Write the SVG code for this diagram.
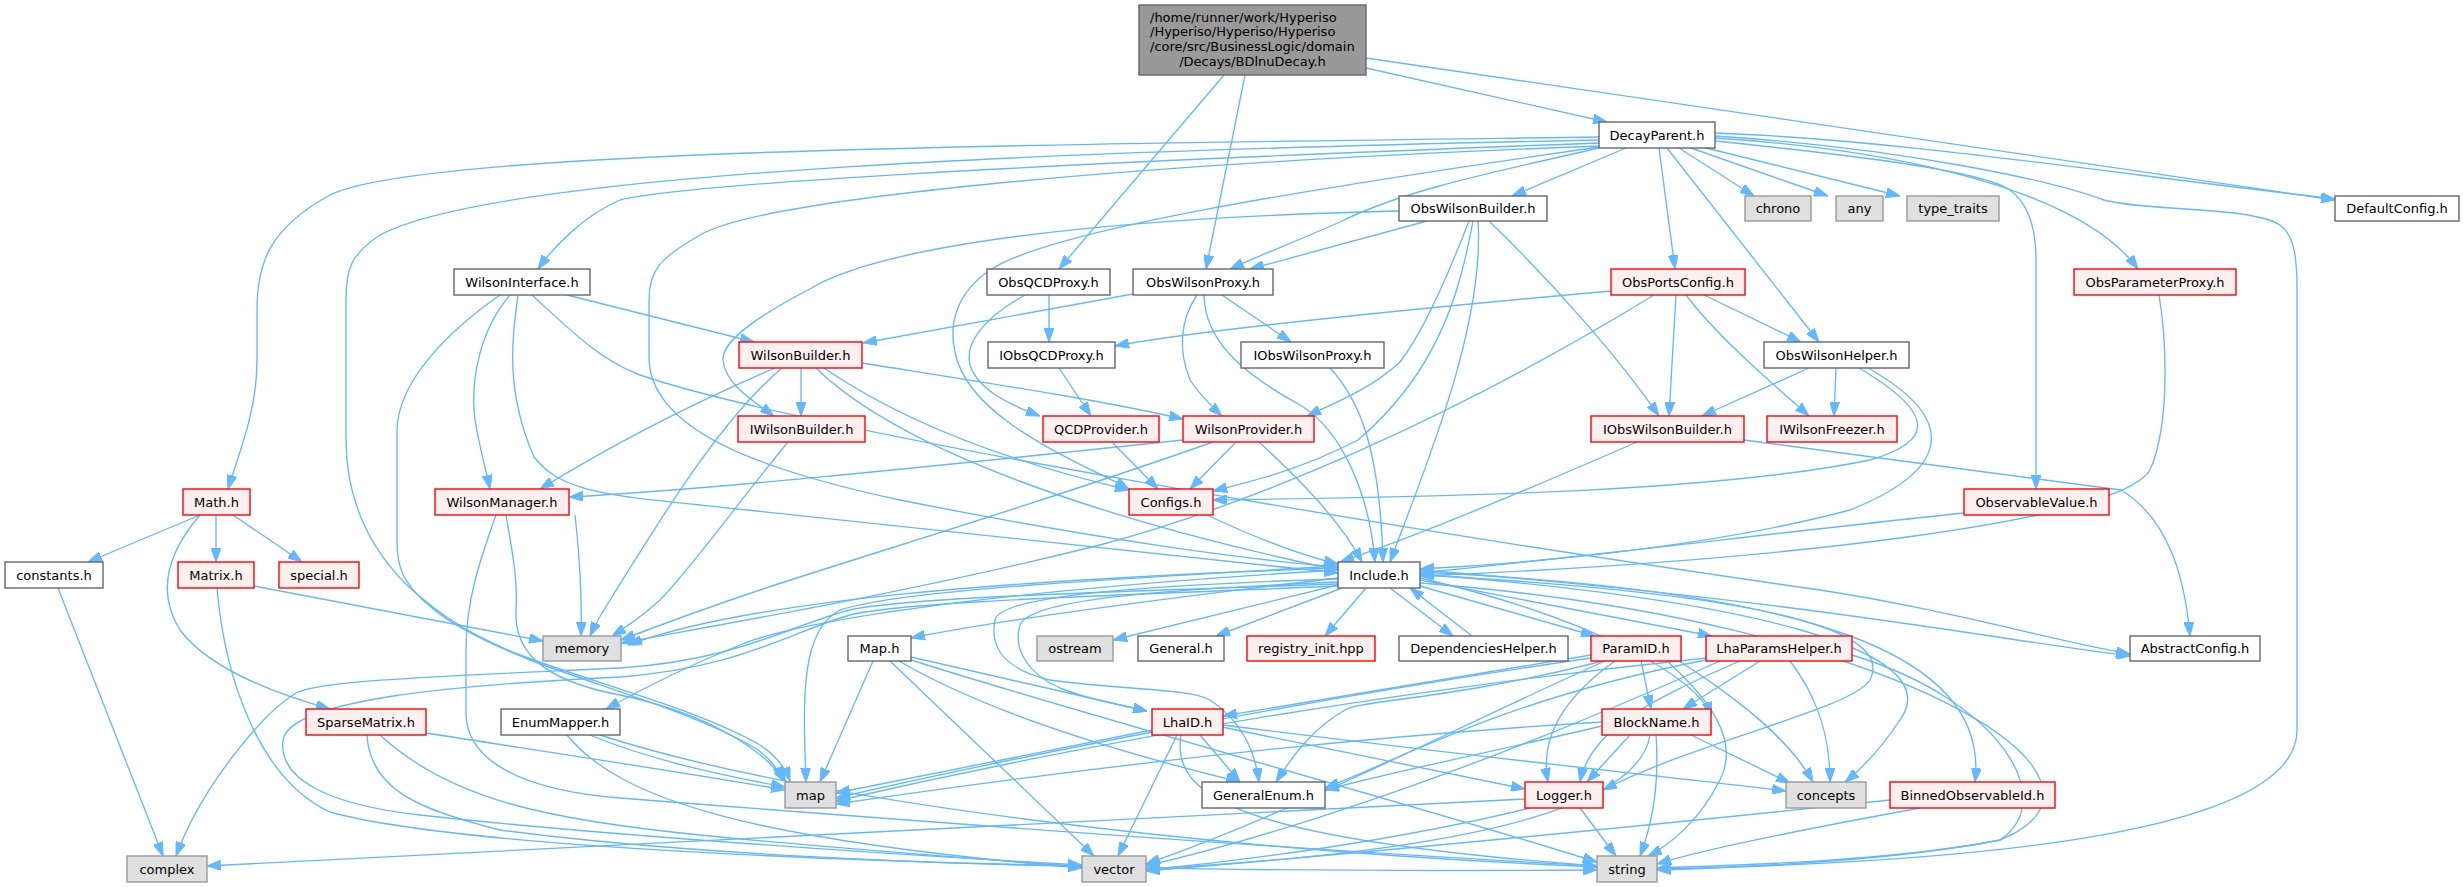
<svg xmlns="http://www.w3.org/2000/svg" width="2463" height="887" viewBox="0 0 2463 887">
<style>
.node rect{stroke-width:1.4}
.w rect{fill:#ffffff;stroke:#666666}
.r rect{fill:#fff0f0;stroke:#ff0000}
.g rect{fill:#e0e0e0;stroke:#999999}
.root rect{fill:#999999;stroke:#666666}
text{font-family:"DejaVu Sans","Liberation Sans",sans-serif;font-size:13px;fill:#000000;text-anchor:middle}
text.l{text-anchor:start}
#edges path{fill:none;stroke:#63b8ff;stroke-width:1.35;marker-end:url(#ah)}
</style>
<defs>
<marker id="ah" viewBox="0 0 14 10" refX="14" refY="5" markerWidth="14" markerHeight="10" markerUnits="userSpaceOnUse" orient="auto"><path d="M0,0 L14,5 L0,10 z" fill="#63b8ff" stroke="#63b8ff" stroke-width="1"/></marker>
</defs>
<rect width="2463" height="887" fill="#ffffff"/>
<g id="edges">
<path d="M1366,68 L1607,122"/>
<path d="M1224,75 L1059,269"/>
<path d="M1245,75 L1206,269"/>
<path d="M1366,58 L2335,200"/>
<path d="M1599,137 C1000,145 420,150 330,195 C270,228 257,262 257,310 L257,360 C257,410 240,450 228,489"/>
<path d="M1599,140 C1100,150 500,170 380,235 C350,255 346,270 346,300 L346,440 C346,500 370,550 410,588 C440,615 470,635 520,655 C600,685 700,710 760,745 C775,755 785,767 790,781"/>
<path d="M1599,143 C1000,165 680,185 620,200 C585,215 555,245 538,269"/>
<path d="M1599,146 C1100,165 760,200 700,235 C660,258 649,270 649,300 L649,357 C649,430 760,470 900,500 C1100,540 1250,560 1338,567"/>
<path d="M1599,147 C1300,190 1050,230 990,270 C958,292 948,322 955,352 C968,420 1080,462 1129,489"/>
<path d="M1599,148 C1480,175 1400,192 1340,222 C1290,244 1258,256 1230,269"/>
<path d="M1626,148 L1512,196"/>
<path d="M1659,148 L1675,269"/>
<path d="M1667,148 L1819,342"/>
<path d="M1679,148 L1754,196"/>
<path d="M1691,148 L1828,196"/>
<path d="M1706,148 L1900,196"/>
<path d="M1715,133 C1900,140 2100,172 2335,199"/>
<path d="M1715,138 C1900,150 2080,190 2138,269"/>
<path d="M1715,141 C1850,155 1980,170 2010,190 C2030,205 2036,230 2036,260 L2036,489"/>
<path d="M1715,136 C1900,148 2050,180 2104,200 C2150,212 2250,206 2280,225 C2295,236 2297,260 2297,290 L2297,730 C2297,830 2000,862 1657,869"/>
<path d="M1427,221 L1250,269"/>
<path d="M1399,211 C1100,218 880,245 808,290 C760,315 722,340 723,360 C725,385 755,402 774,416"/>
<path d="M1469,221 C1450,270 1425,330 1400,362 C1370,390 1330,405 1307,416"/>
<path d="M1473,221 C1460,290 1440,370 1358,440 C1300,470 1250,482 1213,491"/>
<path d="M1478,221 C1485,330 1420,480 1390,562"/>
<path d="M1489,221 C1560,290 1620,360 1659,416"/>
<path d="M1049,295 L1049,342"/>
<path d="M1025,295 C980,320 965,345 970,365 C978,390 1010,405 1040,416"/>
<path d="M1133,294 L863,343"/>
<path d="M1222,295 L1291,342"/>
<path d="M1197,295 C1180,320 1178,350 1190,380 C1200,395 1210,405 1222,416"/>
<path d="M1204,295 C1205,340 1240,372 1300,405 C1345,432 1370,500 1375,562"/>
<path d="M567,295 L754,342"/>
<path d="M510,295 C480,330 470,380 475,420 C480,450 486,470 490,489"/>
<path d="M500,295 C450,330 398,380 397,430 L397,540 C397,570 405,580 415,592 C440,620 480,640 530,660 C610,690 700,715 755,748 C770,758 778,768 782,781"/>
<path d="M518,295 C512,340 505,390 534,457 C560,490 600,495 700,505 C950,530 1200,560 1338,573"/>
<path d="M532,295 C570,330 600,360 640,375 C800,430 1400,530 1820,590 C1950,610 2050,640 2130,654"/>
<path d="M801,368 L801,416"/>
<path d="M862,363 C1000,385 1100,400 1183,419"/>
<path d="M775,368 C700,400 620,440 540,489"/>
<path d="M782,368 C720,420 660,520 610,600 C600,615 595,625 590,636"/>
<path d="M824,368 C900,420 1000,460 1129,490"/>
<path d="M816,368 C900,450 1100,520 1338,570"/>
<path d="M788,442 C740,500 690,570 660,600 C640,618 625,628 612,636"/>
<path d="M1112,442 L1158,489"/>
<path d="M1183,440 C900,470 700,490 569,497"/>
<path d="M1213,442 C1050,500 850,560 760,590 C700,610 660,625 621,640"/>
<path d="M1236,442 L1190,489"/>
<path d="M1259,442 C1300,480 1340,520 1362,562"/>
<path d="M1059,368 L1091,416"/>
<path d="M1330,368 C1360,400 1380,450 1383,562"/>
<path d="M1611,291 C1400,310 1200,330 1115,346"/>
<path d="M1654,295 C1450,420 1250,505 1100,545 C900,595 700,628 621,643"/>
<path d="M1676,295 L1669,416"/>
<path d="M1704,295 L1801,342"/>
<path d="M1686,295 C1720,340 1780,390 1809,416"/>
<path d="M2159,295 C2165,330 2172,420 2150,470 C2120,520 1800,560 1420,576"/>
<path d="M1809,368 L1702,416"/>
<path d="M1836,368 L1834,416"/>
<path d="M1859,368 C1930,410 1940,440 1870,460 C1700,495 1400,497 1213,500"/>
<path d="M1868,368 C1960,420 1950,470 1850,510 C1700,550 1500,565 1420,569"/>
<path d="M1637,442 C1550,480 1420,535 1340,562"/>
<path d="M1744,440 C1900,460 2050,480 2121,490 C2170,520 2185,580 2190,636"/>
<path d="M1964,513 C1800,530 1600,555 1420,573"/>
<path d="M575,515 C580,560 582,600 581,636"/>
<path d="M506,515 C512,550 518,580 516,610 C514,650 540,680 620,695 C700,712 760,745 786,782"/>
<path d="M496,515 C480,560 466,600 466,650 L466,713 C466,760 520,790 620,798 C900,820 1300,850 1597,866"/>
<path d="M200,515 L88,562"/>
<path d="M216,515 L216,562"/>
<path d="M233,515 L302,562"/>
<path d="M200,515 C170,550 155,590 180,630 C210,670 280,695 330,709"/>
<path d="M58,588 L163,856"/>
<path d="M254,586 L543,641"/>
<path d="M217,588 C225,680 260,780 330,812 C450,845 800,860 1082,866"/>
<path d="M426,733 C600,760 700,775 785,790"/>
<path d="M380,735 C450,800 550,820 700,835 C850,850 1000,860 1082,867"/>
<path d="M367,735 C370,790 420,810 500,830 C800,870 1300,872 1597,870"/>
<path d="M590,735 C650,760 720,775 785,787"/>
<path d="M567,735 C620,800 750,840 1082,868"/>
<path d="M600,735 C800,800 1200,850 1597,867"/>
<path d="M873,661 L820,782"/>
<path d="M890,661 L1094,856"/>
<path d="M911,657 L1147,711"/>
<path d="M899,661 C1000,720 1150,760 1240,782"/>
<path d="M911,660 C1100,720 1400,800 1597,862"/>
<path d="M1152,730 L836,793"/>
<path d="M1177,735 L1118,856"/>
<path d="M1200,735 L1240,782"/>
<path d="M1222,727 L1525,789"/>
<path d="M1223,725 C1500,760 1700,780 1786,791"/>
<path d="M1181,735 C1170,800 1250,840 1597,866"/>
<path d="M1591,655 L1223,716"/>
<path d="M1591,658 C1300,700 1000,760 836,798"/>
<path d="M1603,661 C1450,700 1360,700 1345,710 C1310,730 1290,760 1276,782"/>
<path d="M1615,661 C1560,700 1540,740 1548,782"/>
<path d="M1641,661 L1651,709"/>
<path d="M1679,661 C1740,700 1790,740 1813,782"/>
<path d="M1667,661 C1710,700 1740,740 1720,780 C1700,820 1670,845 1648,856"/>
<path d="M1605,661 C1450,730 1300,810 1146,864"/>
<path d="M1760,661 L1683,709"/>
<path d="M1740,661 C1650,700 1590,730 1580,782"/>
<path d="M1706,660 C1500,700 1400,760 1325,788"/>
<path d="M1706,658 C1400,690 1100,740 836,801"/>
<path d="M1720,661 C1500,760 1300,830 1146,866"/>
<path d="M1790,661 C1820,700 1830,740 1830,782"/>
<path d="M1852,655 C2000,700 2060,800 2000,840 C1900,860 1750,865 1657,868"/>
<path d="M1630,735 L1587,782"/>
<path d="M1602,726 C1500,750 1400,770 1325,790"/>
<path d="M1602,722 C1300,740 1000,780 836,804"/>
<path d="M1650,735 C1640,800 1500,850 1146,869"/>
<path d="M1656,735 C1660,790 1650,830 1640,856"/>
<path d="M1691,735 L1790,783"/>
<path d="M1525,799 L207,866"/>
<path d="M1530,808 C1400,840 1250,860 1146,870"/>
<path d="M1580,808 L1616,856"/>
<path d="M1890,800 C1700,820 1400,850 1146,871"/>
<path d="M1920,808 C1800,830 1700,850 1657,864"/>
<path d="M1472,636 L1410,588"/>
<path d="M1390,588 L1453,636"/>
<path d="M1342,588 L1216,636"/>
<path d="M1366,588 L1325,636"/>
<path d="M1338,585 L1113,640"/>
<path d="M1338,578 C1150,600 1000,620 911,638"/>
<path d="M1338,568 C1000,580 750,600 628,645"/>
<path d="M1338,584 C1100,592 900,598 850,610 C790,625 740,660 620,668 C450,676 320,680 296,693 C260,715 200,790 176,856"/>
<path d="M1338,570 C1000,590 800,620 740,645 C690,665 640,690 606,709"/>
<path d="M1338,566 C1100,580 900,590 840,610 C800,630 803,700 806,782"/>
<path d="M1338,582 C1150,590 1030,600 1020,625 C1012,650 1030,675 1060,688 C1090,700 1120,705 1147,711"/>
<path d="M1338,579 C1150,585 1000,595 995,620 C990,645 1000,668 1050,680 C1120,690 1190,688 1210,700 C1240,720 1255,750 1259,782"/>
<path d="M1338,586 C1100,596 900,602 850,615 C790,632 740,668 620,677 C450,685 290,700 283,740 C278,780 330,805 420,815 C600,835 900,855 1082,865"/>
<path d="M1420,583 C1900,620 2150,780 2000,840 C1900,860 1750,867 1657,870"/>
<path d="M1420,575 C1700,590 1900,620 1870,680 C1850,710 1700,740 1603,790"/>
<path d="M1420,574 C1750,600 1950,650 1900,720 C1880,750 1860,770 1845,782"/>
<path d="M1420,572 C1800,590 1990,650 1975,782"/>
<path d="M1420,578 C1600,620 1700,680 1711,716"/>
<path d="M1420,586 L1595,636"/>
<path d="M1420,580 L1712,636"/>
<path d="M1420,570 C1800,600 2000,640 2130,656"/>
<path d="M1207,515 C1260,540 1300,555 1338,564"/>
</g>
<g id="n_root" class="node root"><rect x="1139" y="5" width="227" height="70"/><text class="l" x="1150" y="21.5">/home/runner/work/Hyperiso</text><text class="l" x="1150" y="36.2">/Hyperiso/Hyperiso/Hyperiso</text><text class="l" x="1150" y="50.9">/core/src/BusinessLogic/domain</text><text x="1252.5" y="65.6">/Decays/BDlnuDecay.h</text></g>
<g id="n_DecayParent" class="node w"><rect x="1599" y="122" width="116" height="26"/><text x="1657" y="139.5">DecayParent.h</text></g>
<g id="n_ObsWilsonBuilder" class="node w"><rect x="1399" y="196" width="148" height="25"/><text x="1473" y="213">ObsWilsonBuilder.h</text></g>
<g id="n_chrono" class="node g"><rect x="1745" y="196" width="66" height="25"/><text x="1778" y="213">chrono</text></g>
<g id="n_any" class="node g"><rect x="1836" y="196" width="47" height="25"/><text x="1859.5" y="213">any</text></g>
<g id="n_type_traits" class="node g"><rect x="1907" y="196" width="92" height="25"/><text x="1953" y="213">type_traits</text></g>
<g id="n_DefaultConfig" class="node w"><rect x="2335" y="196" width="124" height="25"/><text x="2397" y="213">DefaultConfig.h</text></g>
<g id="n_WilsonInterface" class="node w"><rect x="454" y="269" width="136" height="26"/><text x="522" y="286.5">WilsonInterface.h</text></g>
<g id="n_ObsQCDProxy" class="node w"><rect x="987" y="269" width="123" height="26"/><text x="1048.5" y="286.5">ObsQCDProxy.h</text></g>
<g id="n_ObsWilsonProxy" class="node w"><rect x="1133" y="269" width="140" height="26"/><text x="1203" y="286.5">ObsWilsonProxy.h</text></g>
<g id="n_ObsPortsConfig" class="node r"><rect x="1611" y="269" width="134" height="26"/><text x="1678" y="286.5">ObsPortsConfig.h</text></g>
<g id="n_ObsParameterProxy" class="node r"><rect x="2074" y="269" width="162" height="26"/><text x="2155" y="286.5">ObsParameterProxy.h</text></g>
<g id="n_WilsonBuilder" class="node r"><rect x="739" y="342" width="123" height="26"/><text x="800.5" y="359.5">WilsonBuilder.h</text></g>
<g id="n_IObsQCDProxy" class="node w"><rect x="988" y="342" width="127" height="26"/><text x="1051.5" y="359.5">IObsQCDProxy.h</text></g>
<g id="n_IObsWilsonProxy" class="node w"><rect x="1241" y="342" width="143" height="26"/><text x="1312.5" y="359.5">IObsWilsonProxy.h</text></g>
<g id="n_ObsWilsonHelper" class="node w"><rect x="1764" y="342" width="145" height="26"/><text x="1836.5" y="359.5">ObsWilsonHelper.h</text></g>
<g id="n_IWilsonBuilder" class="node r"><rect x="738" y="416" width="127" height="26"/><text x="801.5" y="433.5">IWilsonBuilder.h</text></g>
<g id="n_QCDProvider" class="node r"><rect x="1043" y="416" width="116" height="26"/><text x="1101" y="433.5">QCDProvider.h</text></g>
<g id="n_WilsonProvider" class="node r"><rect x="1183" y="416" width="131" height="26"/><text x="1248.5" y="433.5">WilsonProvider.h</text></g>
<g id="n_IObsWilsonBuilder" class="node r"><rect x="1591" y="416" width="153" height="26"/><text x="1667.5" y="433.5">IObsWilsonBuilder.h</text></g>
<g id="n_IWilsonFreezer" class="node r"><rect x="1767" y="416" width="130" height="26"/><text x="1832" y="433.5">IWilsonFreezer.h</text></g>
<g id="n_Math" class="node r"><rect x="183" y="489" width="67" height="26"/><text x="216.5" y="506.5">Math.h</text></g>
<g id="n_WilsonManager" class="node r"><rect x="435" y="489" width="134" height="26"/><text x="502" y="506.5">WilsonManager.h</text></g>
<g id="n_Configs" class="node r"><rect x="1129" y="489" width="84" height="26"/><text x="1171" y="506.5">Configs.h</text></g>
<g id="n_ObservableValue" class="node r"><rect x="1964" y="489" width="145" height="26"/><text x="2036.5" y="506.5">ObservableValue.h</text></g>
<g id="n_constants" class="node w"><rect x="5" y="562" width="98" height="26"/><text x="54" y="579.5">constants.h</text></g>
<g id="n_Matrix" class="node r"><rect x="178" y="562" width="76" height="26"/><text x="216" y="579.5">Matrix.h</text></g>
<g id="n_special" class="node r"><rect x="279" y="562" width="80" height="26"/><text x="319" y="579.5">special.h</text></g>
<g id="n_Include" class="node w"><rect x="1338" y="562" width="82" height="26"/><text x="1379" y="579.5">Include.h</text></g>
<g id="n_memory" class="node g"><rect x="543" y="636" width="78" height="25"/><text x="582" y="653">memory</text></g>
<g id="n_Map" class="node w"><rect x="848" y="636" width="63" height="25"/><text x="879.5" y="653">Map.h</text></g>
<g id="n_ostream" class="node g"><rect x="1037" y="636" width="76" height="25"/><text x="1075" y="653">ostream</text></g>
<g id="n_General" class="node w"><rect x="1138" y="636" width="86" height="25"/><text x="1181" y="653">General.h</text></g>
<g id="n_registry_init" class="node r"><rect x="1247" y="636" width="128" height="25"/><text x="1311" y="653">registry_init.hpp</text></g>
<g id="n_DependenciesHelper" class="node w"><rect x="1399" y="636" width="169" height="25"/><text x="1483.5" y="653">DependenciesHelper.h</text></g>
<g id="n_ParamID" class="node r"><rect x="1591" y="636" width="90" height="25"/><text x="1636" y="653">ParamID.h</text></g>
<g id="n_LhaParamsHelper" class="node r"><rect x="1706" y="636" width="146" height="25"/><text x="1779" y="653">LhaParamsHelper.h</text></g>
<g id="n_AbstractConfig" class="node w"><rect x="2130" y="636" width="130" height="25"/><text x="2195" y="653">AbstractConfig.h</text></g>
<g id="n_SparseMatrix" class="node r"><rect x="306" y="709" width="120" height="26"/><text x="366" y="726.5">SparseMatrix.h</text></g>
<g id="n_EnumMapper" class="node w"><rect x="501" y="709" width="119" height="26"/><text x="560.5" y="726.5">EnumMapper.h</text></g>
<g id="n_LhaID" class="node r"><rect x="1152" y="709" width="71" height="26"/><text x="1187.5" y="726.5">LhaID.h</text></g>
<g id="n_BlockName" class="node r"><rect x="1602" y="709" width="109" height="26"/><text x="1656.5" y="726.5">BlockName.h</text></g>
<g id="n_map" class="node g"><rect x="785" y="782" width="51" height="26"/><text x="810.5" y="799.5">map</text></g>
<g id="n_GeneralEnum" class="node w"><rect x="1202" y="782" width="123" height="26"/><text x="1263.5" y="799.5">GeneralEnum.h</text></g>
<g id="n_Logger" class="node r"><rect x="1525" y="782" width="78" height="26"/><text x="1564" y="799.5">Logger.h</text></g>
<g id="n_concepts" class="node g"><rect x="1786" y="782" width="80" height="26"/><text x="1826" y="799.5">concepts</text></g>
<g id="n_BinnedObservableId" class="node r"><rect x="1890" y="782" width="165" height="26"/><text x="1972.5" y="799.5">BinnedObservableId.h</text></g>
<g id="n_complex" class="node g"><rect x="127" y="856" width="80" height="26"/><text x="167" y="873.5">complex</text></g>
<g id="n_vector" class="node g"><rect x="1082" y="856" width="64" height="26"/><text x="1114" y="873.5">vector</text></g>
<g id="n_string" class="node g"><rect x="1597" y="856" width="60" height="26"/><text x="1627" y="873.5">string</text></g>
</svg>
